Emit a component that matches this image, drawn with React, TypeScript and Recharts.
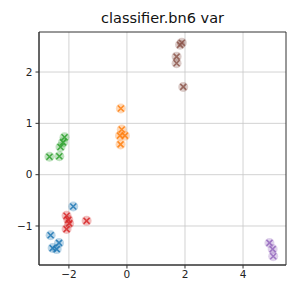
import React from 'react';
import { ScatterChart, Scatter, XAxis, YAxis, CartesianGrid, ReferenceArea } from 'recharts';

const blueX = [-2.63, -2.34, -2.56, -2.42, -1.85];
const blueY = [-1.18, -1.33, -1.43, -1.45, -0.62];
const orangeX = [-0.21, -0.18, -0.07, -0.24, -0.22];
const orangeY = [1.29, 0.88, 0.76, 0.76, 0.59];
const greenX = [-2.67, -2.33, -2.29, -2.2, -2.15];
const greenY = [0.35, 0.36, 0.54, 0.63, 0.73];
const redX = [-2.08, -1.99, -2.08, -1.39, -2.02];
const redY = [-0.8, -0.95, -1.06, -0.9, -0.88];
const purpleX = [4.91, 5.02, 5.04];
const purpleY = [-1.33, -1.45, -1.59];
const brownX = [1.83, 1.89, 1.71, 1.71, 1.94];
const brownY = [2.53, 2.57, 2.3, 2.17, 1.71];

const xTicks = [-2, 0, 2, 4];
const yTicks = [-1, 0, 1, 2];

const toPts = (xs: number[], ys: number[]) => xs.map((x, i) => ({ x, y: ys[i] }));

const series = [
  { name: 'blue', color: '#1f77b4', data: toPts(blueX, blueY) },
  { name: 'orange', color: '#ff7f0e', data: toPts(orangeX, orangeY) },
  { name: 'green', color: '#2ca02c', data: toPts(greenX, greenY) },
  { name: 'red', color: '#d62728', data: toPts(redX, redY) },
  { name: 'purple', color: '#9467bd', data: toPts(purpleX, purpleY) },
  { name: 'brown', color: '#8c564b', data: toPts(brownX, brownY) },
];

const makeShape = (color: string) => (props: any) => {
  const { cx, cy } = props;
  if (cx == null || cy == null) return <g />;
  const d = 3;
  return (
    <g>
      <circle cx={cx} cy={cy} r={5} fill={color} fillOpacity={0.3} />
      <path d={`M${cx - d},${cy - d}L${cx + d},${cy + d}M${cx - d},${cy + d}L${cx + d},${cy - d}`} stroke={color} strokeWidth={1.6} strokeOpacity={0.85} />
    </g>
  );
};

const tickStyle = { fontSize: 10.5, fill: '#222', fontFamily: 'DejaVu Sans' };
const fmt = (v: number) => (v < 0 ? '\u2212' + Math.abs(v) : String(v));

export default function App() {
  return (
    <div style={{ position: 'absolute', left: 0, top: 0, width: 299, height: 299, background: '#fff' }}>
      <div style={{ position: 'absolute', left: 39, width: 247, top: 10, textAlign: 'center', fontFamily: 'DejaVu Sans', fontSize: 14.5, lineHeight: '17px', color: '#111' }}>
        classifier.bn6 var
      </div>
      <ScatterChart width={299} height={299} margin={{ top: 32, right: 13, bottom: 0, left: 0 }}>
        <CartesianGrid stroke="#c8c8c8" strokeWidth={0.8} horizontalValues={yTicks} verticalValues={xTicks} />
        <XAxis
          type="number"
          dataKey="x"
          domain={[-3.03, 5.48]}
          ticks={xTicks}
          allowDataOverflow
          height={34}
          tickSize={3.5}
          tick={tickStyle}
          tickFormatter={fmt}
          axisLine={{ stroke: '#333' }}
          tickLine={{ stroke: '#333' }}
        />
        <YAxis
          type="number"
          dataKey="y"
          domain={[-1.76, 2.78]}
          ticks={yTicks}
          allowDataOverflow
          width={39}
          tickSize={3.5}
          tickMargin={3}
          tick={tickStyle}
          tickFormatter={fmt}
          axisLine={{ stroke: '#333' }}
          tickLine={{ stroke: '#333' }}
        />
        <ReferenceArea x1={-3.03} x2={5.48} y1={-1.76} y2={2.78} fill="none" stroke="#333" strokeWidth={1} ifOverflow="visible" />
        {series.map((s) => (
          <Scatter key={s.name} data={s.data} fill={s.color} shape={makeShape(s.color)} isAnimationActive={false} />
        ))}
      </ScatterChart>
    </div>
  );
}
